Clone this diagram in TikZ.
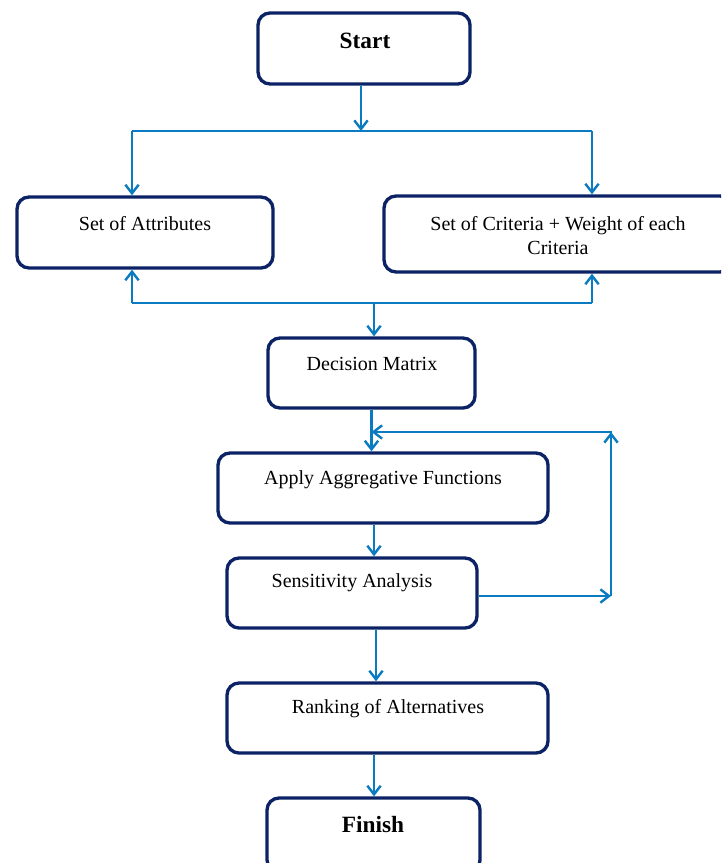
\documentclass[tikz,border=0pt]{standalone}
\usepackage{fontspec}
\setmainfont{Liberation Serif}
\usetikzlibrary{arrows.meta}
\definecolor{navy}{HTML}{0B2265}
\definecolor{flow}{HTML}{0A7BC1}
\begin{document}
\begin{tikzpicture}[x=0.75pt,y=-0.75pt,
 box/.style={draw=navy, line width=2.5pt, rounded corners=9pt, fill=white, inner sep=0pt},
 txt/.style={font=\fontsize{15}{18}\selectfont, align=center, inner sep=0pt},
 bigtxt/.style={font=\fontsize{17.5}{20}\selectfont\bfseries, align=center, inner sep=0pt},
 flowarrow/.style={draw=flow, line width=1.8pt, -{Straight Barb[length=6.5pt,width=10pt,line width=1.8pt]}},
 flowline/.style={draw=flow, line width=1.8pt}]
\useasboundingbox (0,0) rectangle (721,863);
\clip (0,0) rectangle (721,863);
% boxes
\node[box, minimum width=212*0.75pt, minimum height=71*0.75pt] (start) at (364,48.5) {};
\node[bigtxt] (starttext) at (365,41) {Start};
\node[box, minimum width=256*0.75pt, minimum height=71*0.75pt] (attr) at (145,232.5) {};
\node[txt] (attrtext) at (145,224) {Set of Attributes};
\node[box, minimum width=348*0.75pt, minimum height=76*0.75pt] (crit) at (558,234) {};
\node[txt] (crittext) at (558,236) {Set of Criteria + Weight of each\\Criteria};
\node[box, minimum width=207*0.75pt, minimum height=70*0.75pt] (dm) at (371.5,373) {};
\node[txt] (dmtext) at (372,364) {Decision Matrix};
\node[box, minimum width=330*0.75pt, minimum height=70*0.75pt] (apply) at (383,488) {};
\node[txt] (applytext) at (383,480) {Apply Aggregative Functions};
\node[box, minimum width=250*0.75pt, minimum height=70*0.75pt] (sens) at (352,593) {};
\node[txt] (senstext) at (352,583) {Sensitivity Analysis};
\node[box, minimum width=321*0.75pt, minimum height=70*0.75pt] (rank) at (387.5,718) {};
\node[txt] (ranktext) at (388,709) {Ranking of Alternatives};
\node[box, minimum width=213*0.75pt, minimum height=74*0.75pt] (finish) at (373.5,835) {};
\node[bigtxt] (finishtext) at (373,825) {Finish};
% guides
\coordinate (fork) at (361,131);
\coordinate (forkL) at (132,131);
\coordinate (forkR) at (592,131);
\coordinate (joinL) at (132,303);
\coordinate (joinR) at (592,303);
\coordinate (joinM) at (374,303);
\coordinate (g1) at (374,0);
\coordinate (g2) at (376,0);
\coordinate (fbB) at (611,596);
\coordinate (fbT) at (611,432);
% connectors
\draw[flowarrow] (start.south -| fork) -- (fork);
\draw[flowline] (forkL) -- (forkR);
\draw[flowarrow] (forkL) -- (forkL |- attr.north);
\draw[flowarrow] (forkR) -- (forkR |- crit.north);
\draw[flowline] (joinL) -- (joinR);
\draw[flowarrow] (joinL) -- (joinL |- attr.south);
\draw[flowarrow] (joinR) -- (joinR |- crit.south);
\draw[flowarrow] (joinM) -- (joinM |- dm.north);
\draw[flowarrow] (dm.south) -- (dm.south |- apply.north);
\draw[flowarrow] (g1 |- apply.south) -- (g1 |- sens.north);
\draw[flowarrow] (g2 |- sens.south) -- (g2 |- rank.north);
\draw[flowarrow] (g1 |- rank.south) -- (g1 |- finish.north);
\draw[flowarrow] (sens.east |- fbB) -- (fbB);
\draw[flowarrow] (fbB) -- (fbT);
\draw[flowarrow] ([xshift=0.9pt]fbT) -- (dm.south |- fbT);
\end{tikzpicture}
\end{document}
